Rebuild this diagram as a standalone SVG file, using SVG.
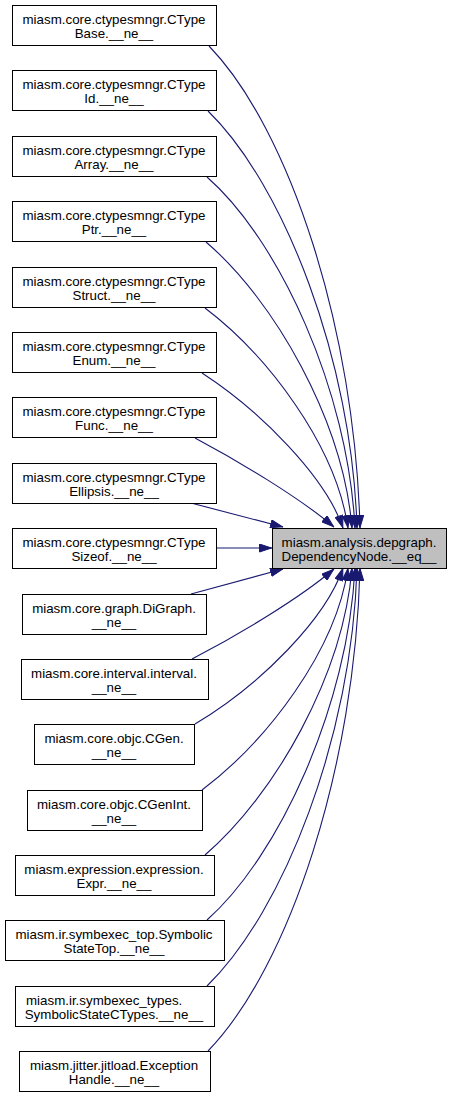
<svg xmlns="http://www.w3.org/2000/svg" width="452" height="1097" viewBox="0 0 452 1097">
<defs>
<style>
.n rect{fill:#ffffff;stroke:#000000;stroke-width:1}
.n.t rect{fill:#bfbfbf}
.n text{font-family:"Liberation Sans",Arial,Helvetica,sans-serif;font-size:13.33px;fill:#000000;text-anchor:middle}
.e path{fill:none;stroke:#191970;stroke-width:1.1;marker-end:url(#ah)}
</style>
<marker id="ah" viewBox="0 0 13 9" refX="13" refY="4.5" markerWidth="13" markerHeight="9" markerUnits="userSpaceOnUse" orient="auto">
<path d="M0.5,0.5 L12.5,4.5 L0.5,8.5 z" fill="#191970" stroke="#191970" stroke-width="1"/>
</marker>
</defs>
<rect width="452" height="1097" fill="#ffffff"/>
<g id="connectors" class="e">
<path d="M209,46 C290,130 355,330 360,528"/>
<path d="M208,111 C284,185 352,360 357,528"/>
<path d="M207,177 C279,240 348,390 355,528"/>
<path d="M206,242 C274,300 343,420 352,528"/>
<path d="M205,308 C267,355 336,445 348,528"/>
<path d="M202,373 C262,412 326,478 343,528"/>
<path d="M195,438 C240,462 300,498 334,527"/>
<path d="M191,503 L283,527"/>
<path d="M216,548 L272,548"/>
<path d="M191,594 L283,569"/>
<path d="M192,659 C240,634 300,598 334,569"/>
<path d="M195,724 C262,684 326,618 343,568"/>
<path d="M202,790 C267,741 336,651 348,568"/>
<path d="M205,855 C274,796 343,676 352,568"/>
<path d="M207,920 C279,856 348,706 355,568"/>
<path d="M207,986 C284,911 352,736 357,568"/>
<path d="M208,1051 C290,966 355,766 360,568"/>
</g>
<g id="n0" class="n"><rect x="12.5" y="5.5" width="204" height="40"/><text x="114" y="23.5">miasm.core.ctypesmngr.CType</text><text x="114" y="37.5">Base.__ne__</text></g>
<g id="n1" class="n"><rect x="12.5" y="70.5" width="204" height="40"/><text x="114" y="88.5">miasm.core.ctypesmngr.CType</text><text x="114" y="102.5">Id.__ne__</text></g>
<g id="n2" class="n"><rect x="12.5" y="136.5" width="204" height="40"/><text x="114" y="154.5">miasm.core.ctypesmngr.CType</text><text x="114" y="168.5">Array.__ne__</text></g>
<g id="n3" class="n"><rect x="12.5" y="201.5" width="204" height="40"/><text x="114" y="219.5">miasm.core.ctypesmngr.CType</text><text x="114" y="233.5">Ptr.__ne__</text></g>
<g id="n4" class="n"><rect x="12.5" y="267.5" width="204" height="40"/><text x="114" y="285.5">miasm.core.ctypesmngr.CType</text><text x="114" y="299.5">Struct.__ne__</text></g>
<g id="n5" class="n"><rect x="12.5" y="332.5" width="204" height="40"/><text x="114" y="350.5">miasm.core.ctypesmngr.CType</text><text x="114" y="364.5">Enum.__ne__</text></g>
<g id="n6" class="n"><rect x="12.5" y="397.5" width="204" height="40"/><text x="114" y="415.5">miasm.core.ctypesmngr.CType</text><text x="114" y="429.5">Func.__ne__</text></g>
<g id="n7" class="n"><rect x="12.5" y="463.5" width="204" height="40"/><text x="114" y="481.5">miasm.core.ctypesmngr.CType</text><text x="114" y="495.5">Ellipsis.__ne__</text></g>
<g id="n8" class="n"><rect x="12.5" y="528.5" width="204" height="40"/><text x="114" y="546.5">miasm.core.ctypesmngr.CType</text><text x="114" y="560.5">Sizeof.__ne__</text></g>
<g id="n9" class="n"><rect x="22.5" y="594.5" width="184" height="40"/><text x="114" y="612.5">miasm.core.graph.DiGraph.</text><text x="114" y="626.5">__ne__</text></g>
<g id="n10" class="n"><rect x="21.5" y="659.5" width="187" height="40"/><text x="114" y="677.5">miasm.core.interval.interval.</text><text x="114" y="691.5">__ne__</text></g>
<g id="n11" class="n"><rect x="34.5" y="724.5" width="160" height="40"/><text x="114" y="742.5">miasm.core.objc.CGen.</text><text x="114" y="756.5">__ne__</text></g>
<g id="n12" class="n"><rect x="27.5" y="790.5" width="175" height="40"/><text x="114" y="808.5">miasm.core.objc.CGenInt.</text><text x="114" y="822.5">__ne__</text></g>
<g id="n13" class="n"><rect x="15.5" y="855.5" width="199" height="40"/><text x="114" y="873.5">miasm.expression.expression.</text><text x="114" y="887.5">Expr.__ne__</text></g>
<g id="n14" class="n"><rect x="5.5" y="920.5" width="219" height="40"/><text x="114" y="938.5">miasm.ir.symbexec_top.Symbolic</text><text x="114" y="952.5">StateTop.__ne__</text></g>
<g id="n15" class="n"><rect x="15.5" y="986.5" width="199" height="40"/><text x="26" y="1004.5" style="text-anchor:start">miasm.ir.symbexec_types.</text><text x="114" y="1018.5">SymbolicStateCTypes.__ne__</text></g>
<g id="n16" class="n"><rect x="19.5" y="1051.5" width="191" height="40"/><text x="114" y="1069.5">miasm.jitter.jitload.Exception</text><text x="114" y="1083.5">Handle.__ne__</text></g>
<g id="target" class="n t"><rect x="272.5" y="528.5" width="174" height="40"/><text x="359" y="546.5">miasm.analysis.depgraph.</text><text x="359" y="560.5">DependencyNode.__eq__</text></g>
</svg>
